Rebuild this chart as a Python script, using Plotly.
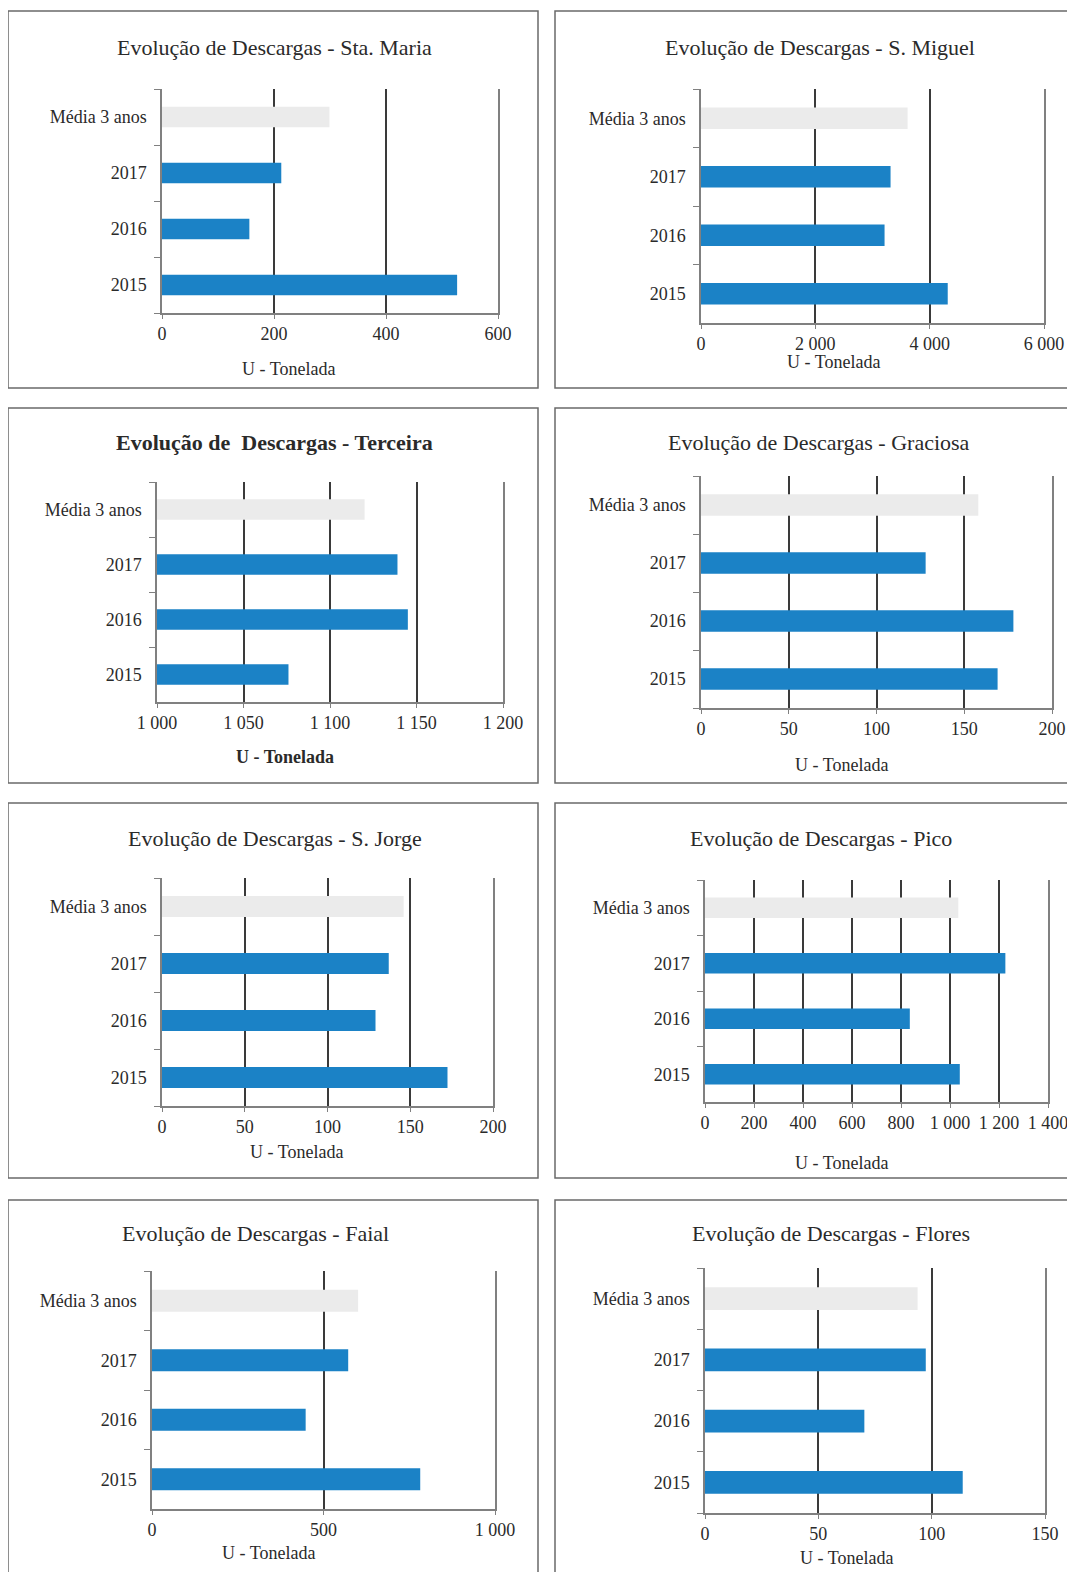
import plotly.graph_objects as go
from plotly.subplots import make_subplots

VW, VH = 1075, 1572          # browser viewport
OFF = 8                      # default body margin of the page
W, H = VW - OFF, VH - OFF    # figure size so that it ends at the viewport edge

categories = ["2015", "2016", "2017", "Média 3 anos"]

islands = ["Sta. Maria", "S. Miguel", "Terceira", "Graciosa",
           "S. Jorge", "Pico", "Faial", "Flores"]

sta_maria = [527, 156, 213, 299]
s_miguel = [4316, 3211, 3316, 3614]
terceira = [1076, 1145, 1139, 1120]
graciosa = [169, 178, 128, 158]
s_jorge = [172.5, 129, 137, 146]
pico = [1040, 836, 1226, 1034]
faial = [782, 448, 572, 601]
flores = [113.7, 70.3, 97.4, 93.8]

series = [sta_maria, s_miguel, terceira, graciosa, s_jorge, pico, faial, flores]

x_ranges = [[0, 600], [0, 6000], [1000, 1200], [0, 200],
            [0, 200], [0, 1400], [0, 1000], [0, 150]]
x_dticks = [200, 2000, 50, 50, 50, 200, 500, 50]

titles = ["Evolução de Descargas - " + n for n in islands]
titles[2] = "<b>Evolução de  Descargas - Terceira</b>"
axis_title = "U - Tonelada"

# ---- layout geometry (viewport pixels) ----
plot_px = [  # x0, x1, ytop, ybottom
    (162, 498, 89, 313),
    (701, 1044, 89, 323),
    (157, 503, 482, 702),
    (701, 1052, 476, 708),
    (162, 493, 878, 1106),
    (705, 1048, 880, 1102),
    (152, 495, 1271, 1509),
    (705, 1045, 1268, 1513),
]
title_px = [(274, 47), (820, 47), (274, 442), (819, 442),
            (275, 838), (821, 838), (255, 1233), (831, 1233)]
xtitle_px = [(288, 369), (833, 362), (285, 757), (841, 765),
             (296, 1152), (841, 1163), (268, 1553), (846, 1558)]
boxes_px = [(8, 538, 11, 388), (555, 1085, 11, 388),
            (8, 538, 408, 783), (555, 1085, 408, 783),
            (8, 538, 803, 1178), (555, 1085, 803, 1178),
            (8, 538, 1200, 1590), (555, 1085, 1200, 1590)]


def px_x(v):
    return (v - OFF) / W


def px_y(v):
    return 1 - (v - OFF) / H


BLUE = "#1b82c6"
GREY_BAR = "#ebebeb"
FONT = "Liberation Serif, Times New Roman, serif"
TXT = "#2a2a2a"

fig = make_subplots(rows=4, cols=2)

for i, vals in enumerate(series):
    r, c = i // 2 + 1, i % 2 + 1
    colors = [BLUE, BLUE, BLUE, GREY_BAR]
    fig.add_trace(go.Bar(
        x=vals, y=categories, orientation="h",
        marker=dict(color=colors, line=dict(width=0)),
        width=0.37, showlegend=False, hoverinfo="x+y"),
        row=r, col=c)

for i in range(8):
    k = "" if i == 0 else str(i + 1)
    x0, x1, yt, yb = plot_px[i]
    bold = (i == 2)
    fig.layout["xaxis" + k].update(
        domain=[px_x(x0), px_x(x1)], range=x_ranges[i], dtick=x_dticks[i],
        tick0=x_ranges[i][0], automargin=False,
        showgrid=True, gridcolor="#3a3a3a", gridwidth=1.5,
        zeroline=False, showline=True, linecolor="#808080", linewidth=1.5,
        ticks="outside", ticklen=4, tickcolor="#808080",
        separatethousands=True,
        tickfont=dict(family=FONT, size=18, color=TXT),
        fixedrange=True)
    fig.layout["yaxis" + k].update(
        domain=[px_y(yb), px_y(yt)], automargin=False,
        type="category", categoryorder="array", categoryarray=categories,
        showgrid=False, zeroline=False, showline=True, mirror=True,
        linecolor="#808080", linewidth=1.5,
        ticks="outside", ticklen=6, tickcolor="#808080", tickson="boundaries",
        ticklabelstandoff=10,
        tickfont=dict(family=FONT, size=18, color=TXT),
        fixedrange=True)
    tx, ty = title_px[i]
    fig.add_annotation(text=titles[i], x=px_x(tx), y=px_y(ty),
                       xref="paper", yref="paper", showarrow=False,
                       xanchor="center", yanchor="middle",
                       font=dict(family=FONT, size=22, color=TXT))
    ax, ay = xtitle_px[i]
    fig.add_annotation(text=("<b>%s</b>" % axis_title) if bold else axis_title,
                       x=px_x(ax), y=px_y(ay),
                       xref="paper", yref="paper", showarrow=False,
                       xanchor="center", yanchor="middle",
                       font=dict(family=FONT, size=18, color=TXT))
    bx0, bx1, by0, by1 = boxes_px[i]
    fig.add_shape(type="rect", xref="paper", yref="paper",
                  x0=px_x(bx0), x1=px_x(bx1), y0=px_y(by1), y1=px_y(by0),
                  line=dict(color="#6a6a6a", width=1.5), layer="below")

fig.update_layout(
    width=W, height=H, autosize=False,
    margin=dict(l=0, r=0, t=0, b=0, autoexpand=False),
    paper_bgcolor="white", plot_bgcolor="white",
    separators=", ",
    font=dict(family=FONT, color=TXT),
)

fig.write_html("out.html")
